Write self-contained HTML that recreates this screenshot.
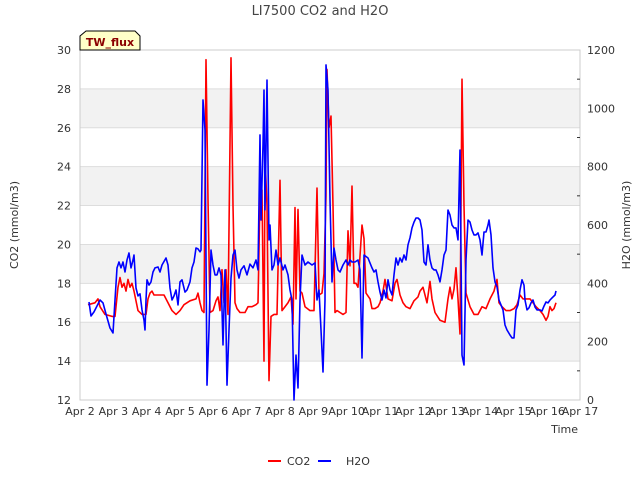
<!DOCTYPE html>
<html><head><meta charset="utf-8"><style>
body{margin:0;background:#fff;font-family:"Liberation Sans",sans-serif}
svg text{font-family:"DejaVu Sans","Liberation Sans",sans-serif}
</style></head><body>
<svg id="chart" width="640" height="480" xmlns="http://www.w3.org/2000/svg">
<rect width="640" height="480" fill="#fff"/>
<g id="bands"></g>
<g id="grid"></g>
<rect x="80" y="50" width="500" height="350" fill="none" stroke="#ccc"/>
<g id="axes"></g>
<g id="series"></g>
<text x="320" y="15" text-anchor="middle" font-size="13" fill="#444">LI7500 CO2 and H2O</text>
<g>
<path d="M80,50 L80,36 L86,31 L135,31 L140,36 L140,50 Z" fill="#ffffc8" stroke="#000" stroke-width="1"/>
<text x="110" y="46" text-anchor="middle" font-size="11" font-weight="bold" fill="#8b0000">TW_flux</text>
</g>
<text transform="translate(18,225) rotate(-90)" text-anchor="middle" font-size="11" fill="#333">CO2 (mmol/m3)</text>
<text transform="translate(630,225) rotate(-90)" text-anchor="middle" font-size="11" fill="#333">H2O (mmol/m3)</text>
<text x="578" y="433" text-anchor="end" font-size="11" fill="#333">Time</text>
<g>
<g><line x1="268" y1="461" x2="281" y2="461" stroke="#f00" stroke-width="2"/><text x="287" y="465" font-size="11" fill="#333">CO2</text></g>
<g><line x1="318" y1="461" x2="331" y2="461" stroke="#00f" stroke-width="2"/><text x="346" y="465" font-size="11" fill="#333">H2O</text></g>
</g>
</svg>
<script>
const xTicks=["Apr 2","Apr 3","Apr 4","Apr 5","Apr 6","Apr 7","Apr 8","Apr 9","Apr 10","Apr 11","Apr 12","Apr 13","Apr 14","Apr 15","Apr 16","Apr 17"];
const leftTicks=[12,14,16,18,20,22,24,26,28,30];
const rightTicks=[0,200,400,600,800,1000,1200];
const co2Days=[0.24,.45,.54,.60,.75,.96,1.05,1.14,1.20,1.26,1.32,1.38,1.44,1.50,1.56,1.62,1.74,1.86,1.98,2.04,2.10,2.16,2.22,2.34,2.52,2.64,2.76,2.88,3.00,3.12,3.30,3.48,3.54,3.60,3.66,3.72,3.78,3.84,3.90,3.99,4.08,4.14,4.20,4.26,4.32,4.38,4.44,4.53,4.59,4.65,4.71,4.80,4.95,5.04,5.16,5.28,5.34,5.40,5.46,5.52,5.55,5.61,5.67,5.73,5.82,5.91,6.00,6.06,6.15,6.24,6.33,6.39,6.45,6.48,6.54,6.60,6.66,6.75,6.90,7.02,7.11,7.17,7.26,7.32,7.38,7.41,7.47,7.53,7.59,7.65,7.71,7.80,7.89,7.98,8.04,8.10,8.16,8.22,8.28,8.34,8.46,8.52,8.58,8.70,8.76,8.85,8.94,9.00,9.09,9.15,9.24,9.36,9.45,9.51,9.60,9.69,9.78,9.90,10.02,10.14,10.20,10.29,10.41,10.50,10.56,10.65,10.80,10.95,11.04,11.10,11.16,11.22,11.28,11.34,11.40,11.46,11.52,11.58,11.70,11.82,11.94,12.06,12.18,12.30,12.42,12.51,12.57,12.66,12.78,12.90,13.02,13.11,13.20,13.29,13.41,13.50,13.59,13.68,13.80,13.89,13.98,14.04,14.10,14.16,14.22,14.28];
const co2Values=[16.9,17.0,17.2,16.8,16.4,16.3,16.3,17.8,18.3,17.8,18.0,17.6,18.2,17.8,18.0,17.6,16.6,16.4,16.4,17.2,17.5,17.6,17.4,17.4,17.4,17.0,16.6,16.4,16.6,16.9,17.1,17.2,17.5,17.0,16.6,16.5,29.5,22.3,16.5,16.6,17.1,17.3,16.6,18.7,17.0,18.7,16.4,29.6,22.0,17.0,16.7,16.5,16.5,16.8,16.8,16.9,17.0,22.5,22.8,14.0,24.5,22.0,13.0,16.3,16.4,16.4,23.3,16.6,16.8,17.0,17.3,15.9,21.9,17.2,21.8,17.6,17.5,16.8,16.6,16.6,22.9,17.4,17.5,18.5,22.5,29.0,26.0,26.6,22.0,16.5,16.6,16.5,16.4,16.5,20.7,18.9,23.0,18.0,18.0,17.8,21.0,20.3,17.5,17.2,16.7,16.7,16.8,17.0,17.6,18.2,17.2,17.1,18.0,18.2,17.4,17.0,16.8,16.7,17.1,17.3,17.6,17.8,17.0,18.1,17.2,16.5,16.1,16.0,17.2,17.8,17.2,17.7,18.8,17.2,15.4,28.5,22.0,17.5,16.8,16.4,16.4,16.8,16.7,17.2,17.6,18.2,17.0,16.8,16.6,16.6,16.7,16.9,17.4,17.2,17.2,17.2,17.0,16.8,16.6,16.4,16.1,16.3,16.8,16.6,16.7,17.0];
const h2oDays=[.27,.33,.42,.54,.60,.69,.78,.90,.99,1.05,1.11,1.17,1.23,1.29,1.35,1.41,1.47,1.53,1.59,1.62,1.68,1.74,1.80,1.86,1.92,1.95,1.98,2.01,2.07,2.13,2.19,2.25,2.34,2.40,2.46,2.58,2.64,2.70,2.76,2.82,2.88,2.94,3.00,3.06,3.15,3.21,3.30,3.36,3.42,3.48,3.54,3.60,3.63,3.69,3.75,3.81,3.87,3.93,3.99,4.05,4.11,4.17,4.23,4.29,4.35,4.41,4.47,4.53,4.59,4.65,4.71,4.77,4.83,4.92,5.01,5.10,5.19,5.28,5.34,5.40,5.43,5.49,5.52,5.55,5.58,5.61,5.67,5.70,5.76,5.82,5.88,5.94,6.00,6.09,6.15,6.24,6.30,6.36,6.42,6.48,6.54,6.60,6.66,6.75,6.84,6.96,7.05,7.11,7.17,7.23,7.29,7.35,7.38,7.44,7.50,7.56,7.62,7.68,7.74,7.80,7.89,7.98,8.04,8.10,8.16,8.25,8.34,8.40,8.46,8.52,8.64,8.76,8.82,8.88,8.94,9.00,9.06,9.12,9.18,9.24,9.30,9.36,9.42,9.48,9.54,9.60,9.66,9.72,9.78,9.84,9.90,9.96,10.02,10.08,10.14,10.20,10.26,10.32,10.38,10.44,10.50,10.56,10.62,10.68,10.74,10.80,10.86,10.92,10.98,11.04,11.10,11.16,11.22,11.28,11.34,11.40,11.46,11.52,11.58,11.64,11.70,11.76,11.82,11.88,11.94,12.00,12.06,12.12,12.18,12.24,12.27,12.33,12.39,12.45,12.51,12.57,12.63,12.69,12.75,12.81,12.90,12.96,13.02,13.08,13.14,13.20,13.26,13.32,13.35,13.41,13.47,13.53,13.59,13.65,13.71,13.80,13.86,13.92,13.98,14.04,14.10,14.16,14.25,14.28];
const h2oValues=[336,288,302,329,343,333,295,247,230,343,453,473,453,473,439,480,504,453,480,497,384,357,364,309,274,240,343,412,394,405,439,453,456,439,463,487,463,384,343,357,377,326,405,412,370,377,405,453,473,521,518,508,514,1029,926,51,240,514,463,429,429,453,429,189,446,51,240,418,497,514,446,418,446,460,429,466,453,480,446,909,617,875,1063,652,857,1097,549,600,446,463,514,463,487,446,463,429,377,343,0,154,41,343,497,463,473,463,470,343,377,240,96,343,1149,1063,686,405,521,480,446,439,463,480,463,480,473,473,480,446,144,497,487,453,439,446,405,370,343,377,350,412,377,360,429,487,463,487,473,497,480,532,556,590,610,624,624,617,583,473,463,532,480,453,446,446,429,405,446,497,514,651,634,600,590,590,549,857,154,120,480,617,610,583,566,566,573,549,497,576,576,600,617,566,453,405,388,343,326,309,257,240,223,213,213,309,326,377,412,394,343,309,316,333,343,319,309,309,305,322,336,333,343,350,360,374];

const NS="http://www.w3.org/2000/svg";
const X0=80,X1=580,Y0=400,Y1=50;
const xs=d=>X0+(X1-X0)*d/15;
const yL=v=>Y0-(Y0-Y1)*(v-12)/18;
const yR=v=>Y0-(Y0-Y1)*v/1200;
function mk(tag,attrs,parent){const e=document.createElementNS(NS,tag);for(const k in attrs)e.setAttribute(k,attrs[k]);parent.appendChild(e);return e;}
const bands=document.getElementById('bands'),grid=document.getElementById('grid'),axes=document.getElementById('axes'),series=document.getElementById('series');
for(let i=0;i<leftTicks.length-1;i++){
  if(i%2===1){const b=mk('rect',{x:X0,y:yL(leftTicks[i+1]),width:X1-X0,height:yL(leftTicks[i])-yL(leftTicks[i+1]),fill:'#f2f2f2'},bands);
  
  }
}
leftTicks.forEach(v=>{
  const l=mk('line',{x1:X0,x2:X1,y1:yL(v),y2:yL(v),stroke:'#ddd'},grid);
  
  
  const t=mk('text',{x:71,y:yL(v)+4,'text-anchor':'end','font-size':'11',fill:'#333'},axes);t.textContent=v;
  
  
});
rightTicks.forEach(v=>{
  const t=mk('text',{x:587,y:yR(v)+4,'font-size':'11',fill:'#333'},axes);t.textContent=v;
  
  
  if(v<1200){const m=mk('line',{x1:577,x2:580,y1:yR(v+100),y2:yR(v+100),stroke:'#333'},axes);
  
  }
});
xTicks.forEach((s,i)=>{
  const t=mk('text',{x:xs(i),y:415,'text-anchor':'middle','font-size':'11',fill:'#333'},axes);t.textContent=s;
  
  
});
const pc=mk('polyline',{points:co2Days.map((d,i)=>xs(d).toFixed(1)+','+yL(co2Values[i]).toFixed(1)).join(' '),fill:'none',stroke:'#f00','stroke-width':'1.6','stroke-linejoin':'round'},series);


const ph=mk('polyline',{points:h2oDays.map((d,i)=>xs(d).toFixed(1)+','+yR(h2oValues[i]).toFixed(1)).join(' '),fill:'none',stroke:'#00f','stroke-width':'1.6','stroke-linejoin':'round'},series);


</script>
</body></html>
